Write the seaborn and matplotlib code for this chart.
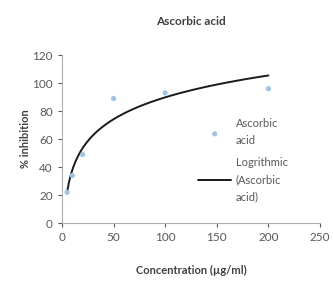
import numpy as np
import pandas as pd
import seaborn as sns
import matplotlib as mpl
from matplotlib import pyplot as plt

conc = [5, 10, 20, 50, 100, 200]
inhibition = [22, 34, 49, 89, 93, 96]
x_ticks = [0, 50, 100, 150, 200, 250]
y_ticks = [0, 20, 40, 60, 80, 100, 120]

df = pd.DataFrame({'conc': conc, 'inhibition': inhibition})

sns.set_style('white')
plt.rcParams['font.family'] = ['Lato', 'DejaVu Sans']

fig = plt.figure(figsize=(3.33, 2.81), dpi=100)
ax = fig.add_axes([0.186, 0.206, 0.775, 0.598])

sns.scatterplot(x='conc', y='inhibition', data=df, ax=ax, color='#9dc3e6',
                s=14, edgecolor='none', label='Ascorbic\nacid', zorder=3)
sns.regplot(x='conc', y='inhibition', data=df, ax=ax, logx=True, ci=None,
            scatter=False, line_kws={'color': '#1a1a1a', 'lw': 1.4},
            label='Logrithmic\n(Ascorbic\nacid)')

ax.set_xlim(0, 250)
ax.set_ylim(0, 120)
ax.set_xticks(x_ticks)
ax.set_yticks(y_ticks)
ax.tick_params(labelsize=8.5, colors='#595959', length=3, width=0.8,
               direction='out', bottom=True, left=True)
for s in ['top', 'right']:
    ax.spines[s].set_visible(False)
for s in ['left', 'bottom']:
    ax.spines[s].set_color('#b0b0b0')
    ax.spines[s].set_linewidth(0.8)

ax.set_title('Ascorbic acid', fontsize=8.5, fontweight='bold', color='#404040', pad=22)
ax.set_xlabel('Concentration (µg/ml)', fontsize=8, fontweight='bold', color='#404040', labelpad=16)
ax.set_ylabel('% inhibition', fontsize=8, fontweight='bold', color='#404040', labelpad=1)

leg = ax.legend(loc='upper left', bbox_to_anchor=(0.51, 0.65), frameon=False,
                fontsize=8, handlelength=3.0, labelspacing=1.0, handletextpad=0.4,
                borderaxespad=0)
for t in leg.get_texts():
    t.set_color('#595959')
    t.set_linespacing(1.65)

plt.savefig('out.png', dpi=100)
